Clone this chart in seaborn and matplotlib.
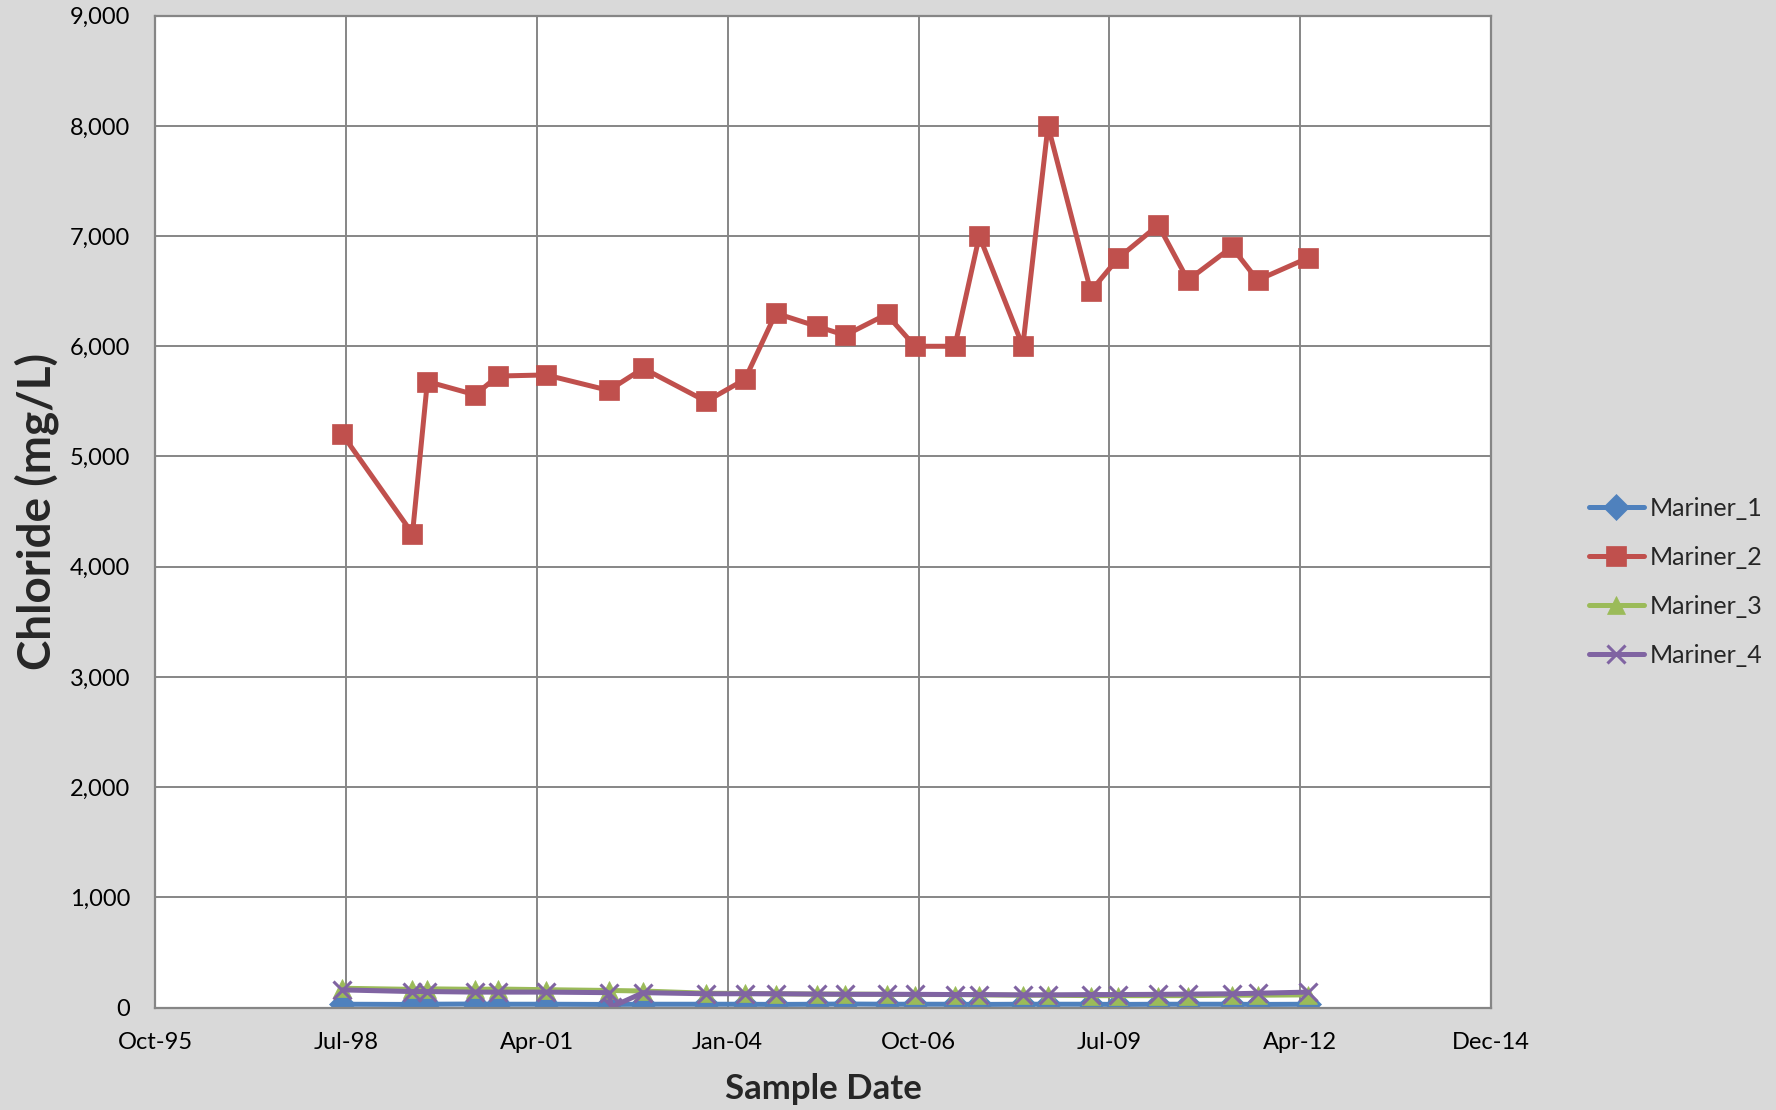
import pandas as pd
import matplotlib
matplotlib.use('Agg')
import matplotlib.pyplot as plt
import matplotlib.dates as mdates
from matplotlib.ticker import FuncFormatter
import seaborn as sns

# --- data ---
sample_dates = ['1998-07-06', '1999-07-08', '1999-09-24', '2000-05-31', '2000-09-28',
                '2001-06-07', '2002-05-01', '2002-10-29', '2003-09-24', '2004-04-14',
                '2004-09-23', '2005-04-28', '2005-09-21', '2006-04-26', '2006-09-22',
                '2007-04-19', '2007-08-25', '2008-04-09', '2008-08-19', '2009-03-31',
                '2009-08-22', '2010-03-20', '2010-08-22', '2011-04-09', '2011-08-22',
                '2012-05-10']
# Mariner_4 has one extra sample (the dip in 2002)
mariner4_dates = sample_dates[:7] + ['2002-05-16'] + sample_dates[7:]

mariner_1 = [30, 28, 30, 32, 30, 30, 28, 30, 30, 30, 28, 30, 32, 30, 30,
             30, 28, 30, 30, 30, 28, 30, 30, 30, 28, 30]
mariner_2 = [5200, 4300, 5680, 5560, 5730, 5740, 5600, 5800, 5500, 5700,
             6300, 6180, 6100, 6290, 6000, 6000, 7000, 6000, 8000, 6500,
             6800, 7100, 6600, 6900, 6600, 6800]
mariner_3 = [175, 165, 170, 165, 168, 162, 155, 150, 130, 128, 125, 122, 122,
             120, 118, 118, 115, 112, 112, 108, 108, 108, 108, 112, 112, 115]
mariner_4 = [160, 145, 145, 140, 140, 140, 135, 5, 135, 125, 125, 125, 122, 120,
             120, 120, 118, 118, 115, 115, 118, 118, 120, 122, 125, 130, 140]

x_ticks = ['1995-10-28', '1998-07-24', '2001-04-19', '2004-01-14',
           '2006-10-11', '2009-07-06', '2012-04-01', '2014-12-27']
y_ticks = [0, 1000, 2000, 3000, 4000, 5000, 6000, 7000, 8000, 9000]

series = [
    ('Mariner_1', sample_dates, mariner_1, '#4F81BD', 'D', 13),
    ('Mariner_2', sample_dates, mariner_2, '#C0504D', 's', 14),
    ('Mariner_3', sample_dates, mariner_3, '#9BBB59', '^', 13),
    ('Mariner_4', mariner4_dates, mariner_4, '#8064A2', 'x', 13),
]

# --- style ---
sns.set_style('white')
plt.rcParams['font.family'] = ['Lato', 'DejaVu Sans']
grid_col = '#868686'
bg_col = '#D9D9D9'

fig = plt.figure(figsize=(17.76, 11.1), dpi=100, facecolor=bg_col)
ax = fig.add_axes([0.0873, 0.0923, 0.7522, 0.8936])
ax.set_facecolor('white')

for name, dates, vals, col, mk, ms in series:
    df = pd.DataFrame({'date': pd.to_datetime(dates), 'value': vals})
    sns.lineplot(data=df, x='date', y='value', ax=ax, color=col, linewidth=3.6,
                 marker=mk, markersize=ms, markeredgecolor=col,
                 markeredgewidth=2.2 if mk == 'x' else 0.5, label=name,
                 estimator=None, sort=False)

ax.set_xlim(pd.Timestamp(x_ticks[0]), pd.Timestamp(x_ticks[-1]))
ax.set_ylim(0, 9000)
ax.set_xticks(pd.to_datetime(x_ticks))
ax.xaxis.set_major_formatter(mdates.DateFormatter('%b-%y'))
ax.set_yticks(y_ticks)
ax.yaxis.set_major_formatter(FuncFormatter(lambda v, p: f'{int(v):,}'))

ax.grid(True, color=grid_col, linewidth=1.4)
ax.set_axisbelow(True)
for sp in ax.spines.values():
    sp.set_color(grid_col)
    sp.set_linewidth(1.6)

ax.tick_params(axis='both', which='major', direction='out', length=5.8,
               width=1.4, color=grid_col, labelsize=17, labelcolor='black')
ax.tick_params(axis='y', pad=12)
ax.tick_params(axis='x', pad=12)

ax.set_xlabel('Sample Date', fontsize=25, fontweight='bold')
ax.set_ylabel('Chloride (mg/L)', fontsize=33, fontweight='bold')
ax.xaxis.set_label_coords(0.5, -0.066)
ax.yaxis.set_label_coords(-0.072, 0.5)

leg = ax.legend(loc='center left', bbox_to_anchor=(0.889, 0.476),
                bbox_transform=fig.transFigure, frameon=False, fontsize=18,
                handlelength=2.2, labelspacing=1.04, handletextpad=0.25,
                borderaxespad=0)

fig.savefig('out.png', dpi=100, facecolor=bg_col)
